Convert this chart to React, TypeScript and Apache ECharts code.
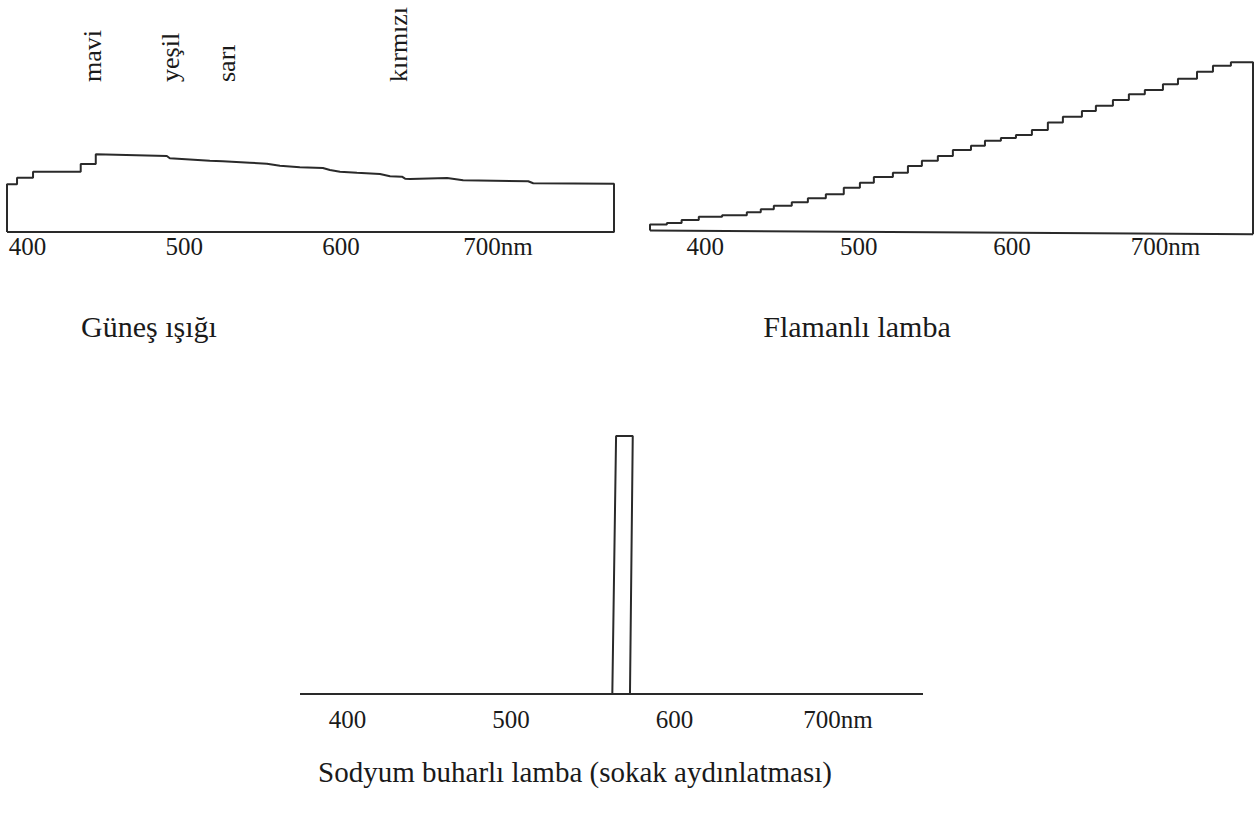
import React, { useEffect, useRef } from "react";
import * as echarts from "echarts";

// ---- Data (wavelength in nm, relative intensity) ----
const tickValues = [400, 500, 600, 700];

// Güneş ışığı (sunlight) outline
const sunNm = [387, 387, 393.4, 393.4, 403.6, 403.6, 434, 434, 443.6, 443.6, 488.9, 490.8, 516.3, 524.6, 541.8, 552.7, 561, 573.7, 588.4, 592.9, 599.3, 610.1, 624.8, 631.2, 638.8, 640.8, 644, 667.6, 677.8, 719.3, 722.5, 774, 774, 387];
const sunIntensity = [0, 47.7, 47.7, 54.3, 54.3, 60.3, 60.3, 68, 68, 77.7, 76, 73.7, 71.3, 70.7, 69.3, 68.3, 66.3, 64.7, 64, 62, 60.3, 59.3, 58, 55.7, 55.3, 53.3, 53, 54, 51.7, 50.7, 48.7, 48.3, 0, 0];

// Flamanlı lamba (filament lamp) step levels (start wavelength of each level)
const filamentNm = [364, 364, 375, 384.6, 395.8, 411, 427.1, 436.2, 444.7, 456.4, 466.9, 478.6, 490.3, 500.8, 509.9, 522.3, 532.1, 541.2, 551.6, 561.4, 573.2, 582.3, 592.7, 602.5, 612.9, 623.3, 633.1, 645.5, 654.6, 665.7, 676.1, 686.5, 698.3, 708.1, 720.5, 730.9, 742.6, 757];
const filamentIntensity = [4.5, 10.5, 12, 15, 18.3, 19.8, 22.7, 25.7, 29.3, 32.7, 36.7, 40.7, 47.3, 52.3, 58, 62.3, 69, 74.3, 79, 85, 89.3, 94.3, 97, 100, 105, 112.5, 118.3, 124, 129.3, 135, 140.7, 145, 150.7, 156.3, 163.3, 169.3, 172.7, 0.7];
const filamentBaseNm = [364, 757];
const filamentBaseIntensity = [4.5, 0.7];

// Sodyum buharlı lamba (sodium vapour lamp)
const sodiumNm = [371, 562, 564.3, 574.5, 572.8, 752];
const sodiumIntensity = [0, 0, 258, 258, 0, 0];
const sodiumBaseNm = [371, 752];
const sodiumBaseIntensity = [0, 0];

const colourNames = ["mavi", "yeşil", "sarı", "kırmızı"];
const chartTitles = ["Güneş ışığı", "Flamanlı lamba", "Sodyum buharlı lamba (sokak aydınlatması)"];

const zip = (xs: number[], ys: number[]) => xs.map((x, i) => [x, ys[i]]);

const FONT = "'Liberation Serif', 'Times New Roman', serif";
const INK = "#2a2a2a";

export default function App() {
  const ref = useRef<HTMLDivElement>(null);

  useEffect(() => {
    if (!ref.current) return;
    const chart = echarts.init(ref.current, null, { renderer: "svg" });

    const xAxisBase = (gridIndex: number, min: number, max: number, margin: number) => ({
      type: "value",
      gridIndex,
      min,
      max,
      axisLine: { show: false },
      axisTick: { show: false },
      splitLine: { show: false },
      axisLabel: {
        customValues: tickValues,
        margin,
        color: "#1a1a1a",
        fontFamily: FONT,
        fontSize: 25,
        formatter: (v: number) => (v === 700 ? "700nm" : String(v)),
      },
    });
    const yAxisBase = (gridIndex: number, max: number) => ({
      type: "value",
      gridIndex,
      min: 0,
      max,
      show: false,
    });
    const lineStyle = { color: INK, width: 2 };

    const colourX = [92, 170, 226.5, 398];

    chart.setOption({
      animation: false,
      backgroundColor: "#ffffff",
      grid: [
        { left: 7, width: 607, top: 132, height: 100 },
        { left: 650, width: 603, top: 55, height: 180 },
        { left: 300, width: 623, top: 434, height: 260 },
      ],
      xAxis: [
        xAxisBase(0, 387, 774, 2),
        xAxisBase(1, 364, 757, -1),
        xAxisBase(2, 371, 752, 13),
      ],
      yAxis: [yAxisBase(0, 100), yAxisBase(1, 180), yAxisBase(2, 260)],
      series: [
        {
          type: "line",
          xAxisIndex: 0,
          yAxisIndex: 0,
          data: zip(sunNm, sunIntensity),
          showSymbol: false,
          lineStyle,
        },
        {
          type: "line",
          xAxisIndex: 1,
          yAxisIndex: 1,
          step: "end",
          data: zip(filamentNm, filamentIntensity),
          showSymbol: false,
          lineStyle,
        },
        {
          type: "line",
          xAxisIndex: 1,
          yAxisIndex: 1,
          data: zip(filamentBaseNm, filamentBaseIntensity),
          showSymbol: false,
          lineStyle,
        },
        {
          type: "line",
          xAxisIndex: 2,
          yAxisIndex: 2,
          data: zip(sodiumNm, sodiumIntensity),
          showSymbol: false,
          lineStyle,
        },
        {
          type: "line",
          xAxisIndex: 2,
          yAxisIndex: 2,
          data: zip(sodiumBaseNm, sodiumBaseIntensity),
          showSymbol: false,
          lineStyle,
        },
      ],
      graphic: [
        ...colourNames.map((name, i) => ({
          type: "text",
          x: colourX[i],
          y: 82,
          rotation: Math.PI / 2,
          style: {
            text: name,
            fill: "#1a1a1a",
            font: `26px ${FONT}`,
            align: "left",
            verticalAlign: "middle",
          },
        })),
        {
          type: "text",
          x: 149,
          y: 326,
          style: { text: chartTitles[0], fill: "#1a1a1a", font: `30px ${FONT}`, align: "center", verticalAlign: "middle" },
        },
        {
          type: "text",
          x: 857,
          y: 326,
          style: { text: chartTitles[1], fill: "#1a1a1a", font: `30px ${FONT}`, align: "center", verticalAlign: "middle" },
        },
        {
          type: "text",
          x: 575,
          y: 772,
          style: { text: chartTitles[2], fill: "#1a1a1a", font: `29px ${FONT}`, align: "center", verticalAlign: "middle" },
        },
      ],
    });

    return () => chart.dispose();
  }, []);

  return (
    <div
      ref={ref}
      style={{ position: "fixed", left: 0, top: 0, width: 1258, height: 813, background: "#fff" }}
    />
  );
}
